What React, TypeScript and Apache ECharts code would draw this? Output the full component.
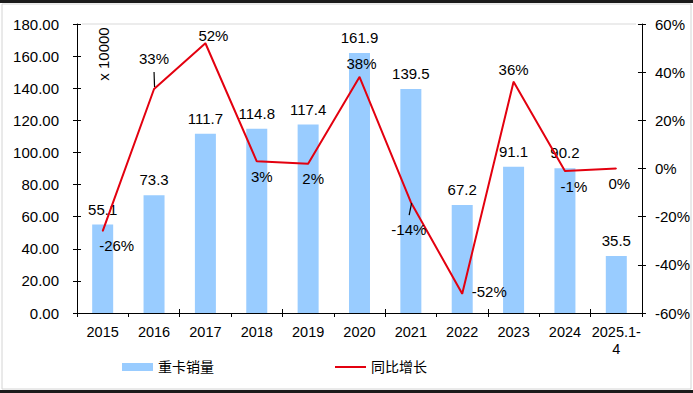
import React, { useEffect, useRef } from "react";
import * as echarts from "echarts";

const categories = ["2015", "2016", "2017", "2018", "2019", "2020", "2021", "2022", "2023", "2024", "2025.1-4"];
const salesValues = [55.1, 73.3, 111.7, 114.8, 117.4, 161.9, 139.5, 67.2, 91.1, 90.2, 35.5];
const growthValues = [-26, 33, 52, 3, 2, 38, -14, -52, 36, -1, 0];
const growthLabelPos = ["bottom", "top", "top", "bottom", "bottom", "top", "bottom", "right", "top", "bottom", "bottom"];
const growthLabelShift = [[14, 1], [0, -18], [8, 5], [5, 2], [5, 2], [2, 0], [-2, 14], [4, -2], [0, 1], [9, 3], [3, 2]];
// leader lines: [dataIndex, dx1, dy1, dx2, dy2] offsets from the data point
const leaders = [[1, 0.5, -2, 0, -17], [6, 0.7, 1, -1.7, 13]];
const leftTicks = { min: 0, max: 180, interval: 20 };
const rightTicks = { min: -60, max: 60, interval: 20 };
const seriesNames = ["重卡销量", "同比增长"];
const unitText = "x 10000";

const FONT = '"Liberation Sans", Arial, "Noto Sans CJK SC", sans-serif';
const BAR = "#99CCFF";
const RED = "#E3000F";

export default function App() {
  const ref = useRef<HTMLDivElement>(null);
  useEffect(() => {
    if (!ref.current) return;
    const chart = echarts.init(ref.current, null, { renderer: "svg" });
    const baseGraphic: any[] = [
      { type: "rect", shape: { x: 0, y: 0, width: 693, height: 3 }, style: { fill: "#1b1b1b" }, silent: true },
      { type: "rect", shape: { x: 0, y: 390, width: 693, height: 3 }, style: { fill: "#1b1b1b" }, silent: true },
      { type: "rect", shape: { x: 2, y: 4, width: 689, height: 385 }, style: { fill: "none", stroke: "#d4d4d4", lineWidth: 1 }, silent: true },
      { type: "line", shape: { x1: 82, y1: 24, x2: 636, y2: 24 }, style: { stroke: "#ececec", lineWidth: 2 }, silent: true },
      {
        type: "text",
        x: 103,
        y: 54,
        rotation: Math.PI / 2,
        style: { text: unitText, fontSize: 15, fontFamily: FONT, fill: "#000", align: "center", verticalAlign: "middle" },
        silent: true,
      },
    ];
    const option: any = {
      animation: false,
      backgroundColor: "#ffffff",
      textStyle: { fontFamily: FONT },
      grid: { left: 77, right: 51, top: 24, bottom: 80 },
      graphic: baseGraphic,
      legend: [
        {
          data: [seriesNames[0]],
          left: 117,
          top: 355,
          itemWidth: 31,
          itemHeight: 8,
          icon: "rect",
          textStyle: { fontSize: 14, color: "#000", fontFamily: FONT },
        },
        {
          data: [{ name: seriesNames[1], icon: "rect" }],
          left: 330,
          top: 355,
          itemWidth: 31,
          itemHeight: 2,
          textStyle: { fontSize: 14, color: "#000", fontFamily: FONT },
        },
      ],
      xAxis: [
        {
          type: "category",
          data: categories,
          boundaryGap: true,
          axisLine: { onZero: false, lineStyle: { color: "#000", width: 1 } },
          axisTick: { show: true, length: 4, lineStyle: { color: "#000" } },
          axisLabel: {
            color: "#000",
            fontSize: 14.5,
            lineHeight: 17,
            margin: 10,
            interval: 0,
            fontFamily: FONT,
            formatter: (v: string) => v.replace("-", "-\n"),
          },
          splitLine: { show: false },
        },
        {
          type: "category",
          data: categories,
          position: "bottom",
          boundaryGap: true,
          axisLine: { show: false, onZero: false },
          axisTick: { show: true, inside: true, length: 4, lineStyle: { color: "#000" } },
          axisLabel: { show: false },
          splitLine: { show: false },
        },
      ],
      yAxis: [
        {
          type: "value",
          position: "left",
          ...leftTicks,
          axisLine: { show: true, onZero: false, lineStyle: { color: "#000" } },
          axisTick: { show: true, length: 4, lineStyle: { color: "#000" } },
          axisLabel: { color: "#000", fontSize: 15, margin: 18, fontFamily: FONT, formatter: (v: number) => v.toFixed(2) },
          splitLine: { show: false },
        },
        {
          type: "value",
          position: "right",
          ...rightTicks,
          axisLine: { show: true, onZero: false, lineStyle: { color: "#000" } },
          axisTick: { show: true, length: 4, lineStyle: { color: "#000" } },
          axisLabel: { color: "#000", fontSize: 15, margin: 13, fontFamily: FONT, formatter: (v: number) => v + "%" },
          splitLine: { show: false },
        },
        {
          type: "value",
          position: "left",
          ...leftTicks,
          axisLine: { show: false, onZero: false },
          axisTick: { show: true, inside: true, length: 4, lineStyle: { color: "#000" } },
          axisLabel: { show: false },
          splitLine: { show: false },
        },
        {
          type: "value",
          position: "right",
          ...rightTicks,
          axisLine: { show: false, onZero: false },
          axisTick: { show: true, inside: true, length: 4, lineStyle: { color: "#000" } },
          axisLabel: { show: false },
          splitLine: { show: false },
        },
      ],
      series: [
        {
          name: seriesNames[0],
          type: "bar",
          xAxisIndex: 0,
          yAxisIndex: 0,
          data: salesValues,
          barWidth: 21,
          itemStyle: { color: BAR },
          label: {
            show: true,
            position: "top",
            distance: 8,
            color: "#000",
            fontSize: 15,
            fontFamily: FONT,
            formatter: (p: any) => p.value.toFixed(1),
          },
        },
        {
          name: seriesNames[1],
          type: "line",
          xAxisIndex: 0,
          yAxisIndex: 1,
          symbol: "circle",
          symbolSize: 1,
          itemStyle: { color: RED },
          lineStyle: { color: RED, width: 2 },
          z: 3,
          data: growthValues.map((v, i) => ({
            value: v,
            label: { position: growthLabelPos[i], distance: 5 },
          })),
          label: {
            show: true,
            color: "#000",
            fontSize: 15,
            fontFamily: FONT,
            formatter: (p: any) => p.value + "%",
          },
          labelLayout: (p: any) => {
            const s = growthLabelShift[p.dataIndex] || [0, 0];
            return { dx: s[0], dy: s[1] };
          },
        },
      ],
    };
    chart.setOption(option);
    const leaderLines = leaders.map(([idx, dx1, dy1, dx2, dy2]) => {
      const pt = chart.convertToPixel({ xAxisIndex: 0, yAxisIndex: 1 }, [idx, growthValues[idx]]) as number[];
      return {
        type: "polyline",
        silent: true,
        z: 100,
        shape: { points: [[pt[0] + dx1, pt[1] + dy1], [pt[0] + dx2, pt[1] + dy2]] },
        style: { stroke: "#000", lineWidth: 1.2, fill: "none" },
      };
    });
    chart.setOption({ graphic: [...baseGraphic, ...leaderLines] });
    return () => chart.dispose();
  }, []);
  return <div ref={ref} style={{ position: "fixed", left: 0, top: 0, width: 693, height: 393 }} />;
}
